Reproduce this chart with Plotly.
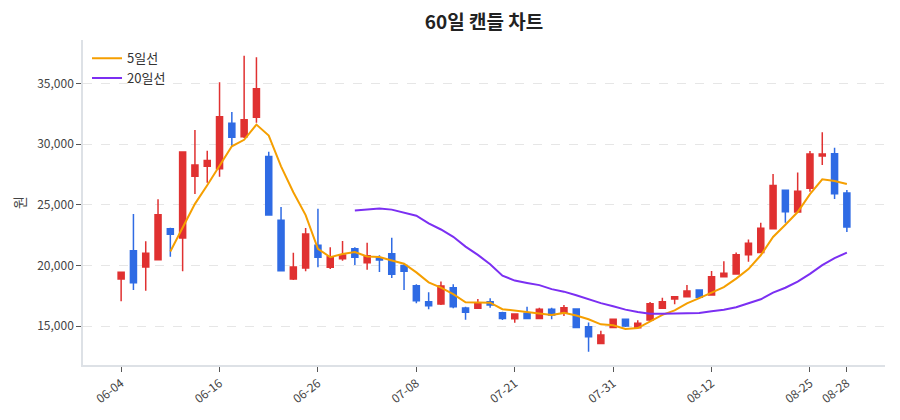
import pandas as pd
import plotly.graph_objects as go

# 60 거래일 (2025)
dates = ['06-04', '06-05', '06-06', '06-09', '06-10', '06-11', '06-12', '06-13', '06-16', '06-17',
         '06-18', '06-19', '06-20', '06-23', '06-24', '06-25', '06-26', '06-27', '06-30', '07-01',
         '07-02', '07-03', '07-04', '07-07', '07-08', '07-09', '07-10', '07-11', '07-14', '07-15',
         '07-16', '07-18', '07-21', '07-22', '07-23', '07-24', '07-25', '07-28', '07-29', '07-30',
         '07-31', '08-01', '08-04', '08-05', '08-06', '08-07', '08-08', '08-11', '08-12', '08-13',
         '08-14', '08-18', '08-19', '08-20', '08-21', '08-22', '08-25', '08-26', '08-27', '08-28']

opens = [18870, 21200, 19860, 20460, 23020, 22250, 27340, 28160, 27960, 31700,
         30600, 32200, 28980, 23710, 18870, 19780, 21650, 19840, 20550, 21370,
         20220, 20600, 20960, 19980, 18320, 17000, 16810, 18160, 16480, 16460,
         17000, 16100, 15600, 16050, 15630, 16380, 16130, 16400, 14940, 13570,
         14890, 15550, 14860, 15490, 16460, 17230, 17410, 17970, 17550, 19060,
         19290, 20880, 21070, 23020, 26180, 24390, 26350, 29010, 29200, 25960]
highs = [19450, 24230, 21980, 25440, 23100, 29400, 31150, 29440, 35080, 32630,
         37270, 37140, 29360, 24810, 21040, 23080, 24670, 21490, 22000, 21490,
         21860, 20830, 22280, 20200, 18440, 17780, 18680, 18440, 16590, 17230,
         17280, 16180, 16030, 16590, 16510, 16510, 16730, 16450, 15300, 14610,
         15630, 15630, 15470, 16980, 17330, 17450, 18380, 18000, 19530, 20330,
         21070, 22140, 23510, 27520, 26250, 27660, 29420, 30960, 29690, 26210]
lows = [17050, 17970, 17910, 20400, 20710, 19510, 25880, 26810, 27300, 29830,
        30500, 31750, 24100, 19500, 18800, 19510, 19840, 19700, 20380, 20030,
        19640, 19450, 18960, 17970, 16870, 16380, 16730, 16460, 15520, 16400,
        16510, 15490, 15270, 15600, 15580, 15550, 15820, 14850, 12880, 13550,
        14810, 14920, 14800, 15410, 16400, 16790, 17350, 17300, 17600, 19000,
        19250, 20300, 21000, 22950, 23510, 24350, 26070, 28270, 25470, 22750]
closes = [19430, 18570, 20990, 24170, 22560, 29340, 28270, 28650, 32250, 30550,
          32000, 34550, 24150, 19560, 19860, 22580, 20660, 20710, 20850, 20660,
          20790, 20440, 19260, 19520, 17090, 16670, 18300, 16590, 16130, 16870,
          16730, 15630, 15990, 15630, 16380, 15910, 16510, 14890, 14120, 14260,
          15550, 15000, 15220, 16840, 17000, 17410, 17880, 17370, 19060, 19340,
          20880, 21820, 23050, 26590, 24420, 26100, 29170, 29170, 25900, 23160]

df = pd.DataFrame({'date': dates, 'open': opens, 'high': highs, 'low': lows, 'close': closes})
df['ma5'] = df['close'].rolling(5).mean()
df['ma20'] = df['close'].rolling(20).mean()

RED = '#e03131'
BLUE = '#2f6be4'

fig = go.Figure()
fig.add_trace(go.Candlestick(
    x=df['date'], open=df['open'], high=df['high'], low=df['low'], close=df['close'],
    increasing=dict(line=dict(color=RED, width=1.5), fillcolor=RED),
    decreasing=dict(line=dict(color=BLUE, width=1.5), fillcolor=BLUE),
    showlegend=False, name='캔들'
))
fig.add_trace(go.Scatter(x=df['date'], y=df['ma5'], mode='lines', name='5일선',
                         line=dict(color='#f59f00', width=2)))
fig.add_trace(go.Scatter(x=df['date'], y=df['ma20'], mode='lines', name='20일선',
                         line=dict(color='#7b2ff2', width=2)))

tick_idx = list(range(0, len(dates), 8)) + [len(dates) - 1]

# 페이지 여백(8px) 보정한 마진
fig.update_layout(
    width=900, height=420,
    title=dict(text='<b>60일 캔들 차트</b>', x=0.5, xref='paper', xanchor='center',
               y=0.967, yref='container', yanchor='middle',
               font=dict(size=19, color='#222')),
    font=dict(family='Noto Sans CJK KR, Noto Sans, sans-serif', size=12, color='#444'),
    plot_bgcolor='white', paper_bgcolor='white',
    margin=dict(l=75, r=23, t=32, b=63),
    legend=dict(x=0.005, y=0.99, xanchor='left', yanchor='top', bgcolor='rgba(255,255,255,0)',
                font=dict(size=13, color='#333')),
    xaxis=dict(type='category', rangeslider=dict(visible=False), range=[-3.1, 62.1],
               tickvals=[dates[i] for i in tick_idx], tickangle=-38, automargin=False,
               showgrid=False, showline=True, linecolor='#dde1e6', linewidth=1.5,
               ticks='outside', ticklen=5, tickcolor='#555'),
    yaxis=dict(title=dict(text='원', standoff=8), range=[11790, 38570], tickformat=',',
               dtick=5000, showgrid=True, gridcolor='#e6e6e6', griddash='dash', automargin=False,
               showline=True, linecolor='#dde1e6', linewidth=1.5, zeroline=False,
               ticks='outside', ticklen=5, tickcolor='#555'),
)

fig.write_html('out.html')
